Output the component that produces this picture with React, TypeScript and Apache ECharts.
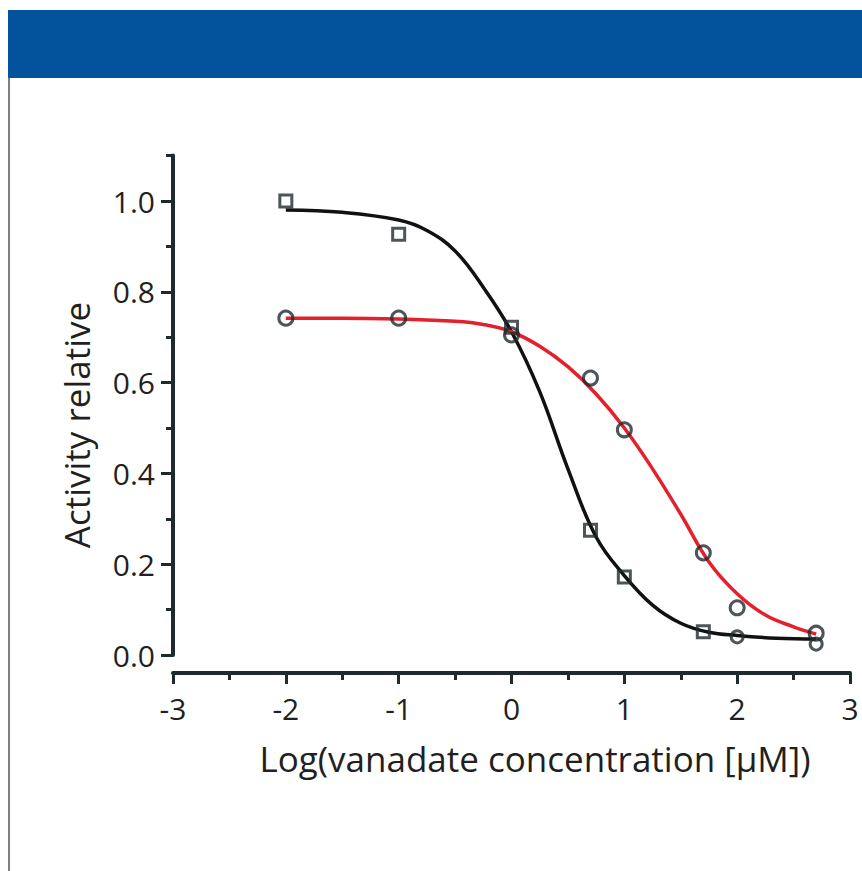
import React, { useEffect, useRef } from "react";
import * as echarts from "echarts";

// ---- data ----
const xTickLabels = ["-3", "-2", "-1", "0", "1", "2", "3"];
const yTickLabels = ["0.0", "0.2", "0.4", "0.6", "0.8", "1.0"];

// measured points (open squares, black fit)
const squareX = [-2, -1, 0, 0.7, 1, 1.7, 2, 2.7];
const squareY = [1.0, 0.927, 0.722, 0.275, 0.172, 0.051, 0.04, 0.024];
const squareSymbols = ["rect", "rect", "rect", "rect", "rect", "rect", "circle", "circle"];

// measured points (open circles, red fit)
const circleX = [-2, -1, 0, 0.7, 1, 1.7, 2, 2.7];
const circleY = [0.742, 0.742, 0.705, 0.61, 0.496, 0.225, 0.104, 0.048];

// fitted curves
const blackCurveX = [-2, -1.5, -1, -0.75, -0.5, -0.25, 0, 0.25, 0.5, 0.75, 1, 1.25, 1.5, 1.75, 2, 2.35, 2.7];
const blackCurveY = [0.98, 0.975, 0.958, 0.935, 0.89, 0.81, 0.712, 0.58, 0.41, 0.26, 0.175, 0.11, 0.07, 0.05, 0.043, 0.037, 0.035];

const redCurveX = [-2, -1.5, -1, -0.5, -0.25, 0, 0.25, 0.5, 0.75, 1, 1.25, 1.5, 1.75, 2, 2.25, 2.5, 2.7];
const redCurveY = [0.742, 0.742, 0.74, 0.735, 0.728, 0.712, 0.68, 0.635, 0.575, 0.5, 0.41, 0.31, 0.205, 0.135, 0.088, 0.062, 0.046];

const yMajorTicks = [0, 0.2, 0.4, 0.6, 0.8, 1.0];
const yMinorTicks = [0.1, 0.3, 0.5, 0.7, 0.9, 1.1];

const xTitle = "Log(vanadate concentration [\u03BCM])";
const yTitle = "Activity relative";

const FONT = "'Open Sans', 'Noto Sans', sans-serif";
const TEXT = "#231f20";
const AXIS = "#1d2a2e";
const MARK = "#1f2a2d";

export default function App() {
  const ref = useRef<HTMLDivElement>(null);

  useEffect(() => {
    if (!ref.current) return;
    const chart = echarts.init(ref.current, null, { renderer: "svg" });

    const zip = (xs: number[], ys: number[]) => xs.map((x, i) => [x, ys[i]]);

    chart.setOption({
      animation: false,
      backgroundColor: "#ffffff",
      grid: { left: 173, right: 12, top: 155.6, bottom: 216, containLabel: false },
      xAxis: {
        type: "value",
        min: -3,
        max: 3,
        interval: 1,
        offset: 18,
        axisLine: { show: true, onZero: false, lineStyle: { color: AXIS, width: 4 } },
        axisTick: { show: true, inside: false, length: 11, lineStyle: { color: AXIS, width: 3 } },
        minorTick: { show: true, splitNumber: 2, length: 7, lineStyle: { color: AXIS, width: 3 } },
        splitLine: { show: false },
        minorSplitLine: { show: false },
        axisLabel: {
          fontSize: 30,
          fontFamily: FONT,
          color: TEXT,
          margin: 20,
          formatter: (v: number) => {
            const i = Math.round(v + 3);
            return xTickLabels[i] ?? "";
          },
        },
      },
      yAxis: [
        {
          type: "value",
          min: 0,
          max: 1.1,
          interval: 0.1,
          position: "left",
          axisLine: { show: true, onZero: false, lineStyle: { color: AXIS, width: 4 } },
          axisTick: { show: true, length: 7, lineStyle: { color: AXIS, width: 3 }, customValues: yMinorTicks },
          splitLine: { show: false },
          axisLabel: { show: false },
        },
        {
          type: "value",
          min: 0,
          max: 1.1,
          interval: 0.2,
          position: "left",
          axisLine: { show: false, onZero: false },
          axisTick: { show: true, length: 12, lineStyle: { color: AXIS, width: 3 }, customValues: yMajorTicks },
          splitLine: { show: false },
          axisLabel: {
            fontSize: 30,
            fontFamily: FONT,
            color: TEXT,
            margin: 18,
            customValues: yMajorTicks,
            formatter: (v: number) => {
              const i = Math.round(v / 0.2);
              return Math.abs(v - i * 0.2) < 1e-6 ? yTickLabels[i] ?? "" : "";
            },
          },
        },
      ],
      graphic: [
        { type: "rect", shape: { x: 8, y: 10, width: 854, height: 68 }, style: { fill: "#02529c" }, silent: true },
        { type: "line", shape: { x1: 9, y1: 78, x2: 9, y2: 871 }, style: { stroke: "#555", lineWidth: 1.5 }, silent: true },
        {
          type: "text",
          x: 535,
          y: 758,
          style: { text: xTitle, fontSize: 35, fontFamily: FONT, fill: TEXT, align: "center", verticalAlign: "middle" },
        },
        {
          type: "text",
          x: 76,
          y: 425,
          rotation: Math.PI / 2,
          style: { text: yTitle, fontSize: 35, fontFamily: FONT, fill: TEXT, align: "center", verticalAlign: "middle" },
        },
      ],
      series: [
        {
          type: "line",
          name: "fit black",
          data: zip(blackCurveX, blackCurveY),
          smooth: 0.4,
          showSymbol: false,
          lineStyle: { color: "#111111", width: 3.5 },
          z: 2,
        },
        {
          type: "line",
          name: "fit red",
          data: zip(redCurveX, redCurveY),
          smooth: 0.4,
          showSymbol: false,
          lineStyle: { color: "#e3202b", width: 3.5 },
          z: 3,
        },
        {
          type: "scatter",
          name: "squares",
          data: squareX.map((x, i) => ({ value: [x, squareY[i]], symbol: squareSymbols[i] })),
          symbol: "rect",
          symbolSize: 12,
          itemStyle: { color: "rgba(255,255,255,0)", borderColor: MARK, borderWidth: 3 },
          z: 4,
        },
        {
          type: "scatter",
          name: "circles",
          data: zip(circleX, circleY),
          symbol: "circle",
          symbolSize: 14,
          itemStyle: { color: "rgba(255,255,255,0)", borderColor: MARK, borderWidth: 3 },
          z: 4,
        },
      ],
    });

    return () => chart.dispose();
  }, []);

  return (
    <div
      ref={ref}
      style={{ position: "absolute", left: 0, top: 0, width: 862, height: 871, background: "#fff" }}
    />
  );
}
